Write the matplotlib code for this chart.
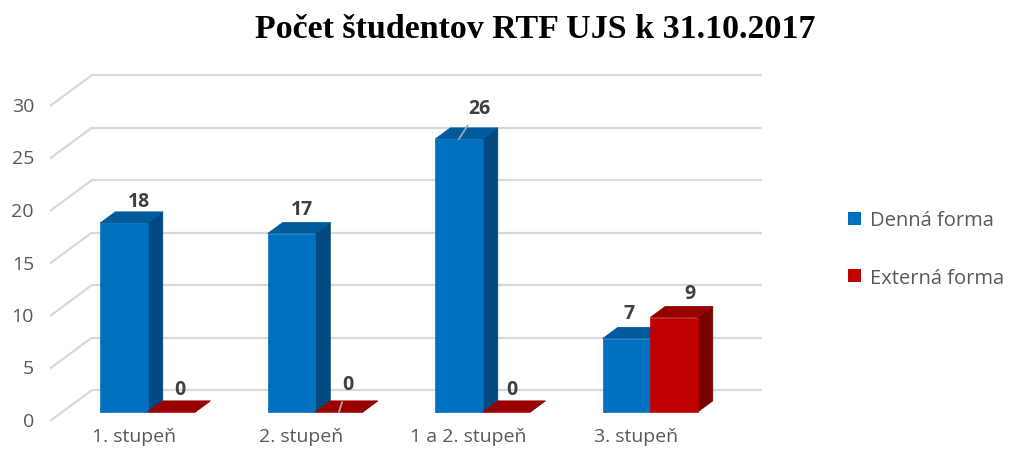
"""
Počet študentov RTF UJS k 31.10.2017 - Excel-style 3D clustered columns,
drawn as flat polygons with a simple oblique projection.
"""

import matplotlib

matplotlib.use("Agg")
import matplotlib.pyplot as plt
from matplotlib.patches import Polygon, Patch

# ---------------------------------------------------------------------------
# Data
# ---------------------------------------------------------------------------
categories = ["1. stupeň", "2. stupeň", "1 a 2. stupeň", "3. stupeň"]
series_names = ["Denná forma", "Externá forma"]
denna = [18, 17, 26, 7]
externa = [0, 0, 0, 9]
y_ticks = [0, 5, 10, 15, 20, 25, 30]
title = "Počet študentov RTF UJS k 31.10.2017"

# ---------------------------------------------------------------------------
# Geometry / style (pixel based, figure is 1011 x 464 at dpi 100)
# ---------------------------------------------------------------------------
W_PX, H_PX = 1011, 464
PX_PER_CAT = 167.5
PX_PER_UNIT = 10.5
ORIGIN = (50, 422)            # front-left corner of the floor
DEPTH_PX = (42, 31)           # full depth of the box (right, up)
BAR_D0, BAR_D1 = 0.29, 0.65   # bar front / back depth fraction
BAR_GAP = 38 / PX_PER_CAT
BAR_W = 47.5 / PX_PER_CAT

DX = DEPTH_PX[0] / PX_PER_CAT
DY = DEPTH_PX[1] / PX_PER_UNIT

COLORS = {
    0: {"front": "#0070C0", "top": "#005A9C", "side": "#00497F"},
    1: {"front": "#C00000", "top": "#990000", "side": "#780000"},
}
GRID = "#D9D9D9"
TEXT_GRAY = "#595959"
LABEL_GRAY = "#404040"
FONT = "Open Sans"

# label nudges in pixels (right, down) relative to the back-top centre of a bar
LABEL_NUDGE = {
    (0, 0): (0, -11), (1, 0): (-5, -13), (3, 0): (-12, -14),
    (0, 1): (-7, -12), (2, 1): (-10, -12), (3, 1): (1, -13),
}
# labels that Excel pulled away and joined with a leader line
# (offset from the front-top centre of the bar)
LEADER = {(2, 0): (20, -31), (1, 1): (9, -28)}


def proj(x, v, d):
    return x + d * DX, v + d * DY


def px2pt(p):
    return p * 72 / 100


fig = plt.figure(figsize=(W_PX / 100, H_PX / 100), dpi=100)
ax = fig.add_axes([0, 0, 1, 1])
ax.set_xlim(-ORIGIN[0] / PX_PER_CAT, (W_PX - ORIGIN[0]) / PX_PER_CAT)
ax.set_ylim(-(H_PX - ORIGIN[1]) / PX_PER_UNIT, ORIGIN[1] / PX_PER_UNIT)
ax.axis("off")

n_cat = len(categories)

# back wall gridlines + left side-wall diagonals
for v in y_ticks:
    x0, y0 = proj(0, v, 1)
    x1, y1 = proj(n_cat, v, 1)
    ax.plot([x0, x1], [y0, y1], color=GRID, lw=1.6, zorder=1,
            solid_capstyle="butt")
    xa, ya = proj(0, v, 0)
    ax.plot([xa, x0], [ya, y0], color=GRID, lw=1.6, zorder=1,
            solid_capstyle="butt")
    ax.annotate(str(v), (xa, ya), xytext=(px2pt(-16), 0),
                textcoords="offset points", ha="right", va="center",
                fontsize=14, color=TEXT_GRAY, family=FONT)

# category labels
for i, name in enumerate(categories):
    x, y = proj(i + 0.5, 0, 0)
    ax.annotate(name, (x, y), xytext=(0, px2pt(-15)),
                textcoords="offset points", ha="center", va="center",
                fontsize=14, color=TEXT_GRAY, family=FONT)

# bars
for i in range(n_cat):
    for j, vals in enumerate([denna, externa]):
        v = vals[i]
        xl = i + BAR_GAP + j * BAR_W
        xr = xl + BAR_W
        c = COLORS[j]
        front = [proj(xl, 0, BAR_D0), proj(xr, 0, BAR_D0),
                 proj(xr, v, BAR_D0), proj(xl, v, BAR_D0)]
        side = [proj(xr, 0, BAR_D0), proj(xr, 0, BAR_D1),
                proj(xr, v, BAR_D1), proj(xr, v, BAR_D0)]
        top = [proj(xl, v, BAR_D0), proj(xr, v, BAR_D0),
               proj(xr, v, BAR_D1), proj(xl, v, BAR_D1)]
        for pts, key in [(side, "side"), (front, "front"), (top, "top")]:
            ax.add_patch(Polygon(pts, closed=True, facecolor=c[key],
                                 edgecolor=c[key], lw=0.5, zorder=3))

        xc = (xl + xr) / 2
        if (i, j) in LEADER:
            dx, dy = LEADER[(i, j)]
            ax.annotate(str(v), proj(xc, v, BAR_D0),
                        xytext=(px2pt(dx), -px2pt(dy)),
                        textcoords="offset points", ha="center", va="center",
                        fontsize=14, fontweight="bold", color=LABEL_GRAY,
                        family=FONT, zorder=5,
                        arrowprops=dict(arrowstyle="-", color="#A6A6A6",
                                        lw=1.3, shrinkA=4, shrinkB=0))
        else:
            dx, dy = LABEL_NUDGE[(i, j)]
            ax.annotate(str(v), proj(xc, v, BAR_D1),
                        xytext=(px2pt(dx), -px2pt(dy)),
                        textcoords="offset points", ha="center", va="center",
                        fontsize=14, fontweight="bold", color=LABEL_GRAY,
                        family=FONT, zorder=5)

# title
fig.text(535 / W_PX, 1 - 29 / H_PX, title, ha="center", va="center",
         fontsize=24.5, fontweight="bold", family="Liberation Serif",
         color="black")

# legend
handles = [Patch(facecolor=COLORS[k]["front"], edgecolor="none")
           for k in range(len(series_names))]
leg = fig.legend(handles, series_names, loc="center left",
                 bbox_to_anchor=(830 / W_PX, 1 - 250 / H_PX),
                 frameon=False, handlelength=0.62, handleheight=0.62,
                 handletextpad=0.45, labelspacing=1.85,
                 prop={"family": FONT, "size": 14.5})
for t in leg.get_texts():
    t.set_color(TEXT_GRAY)

fig.savefig("out.png", dpi=100)
